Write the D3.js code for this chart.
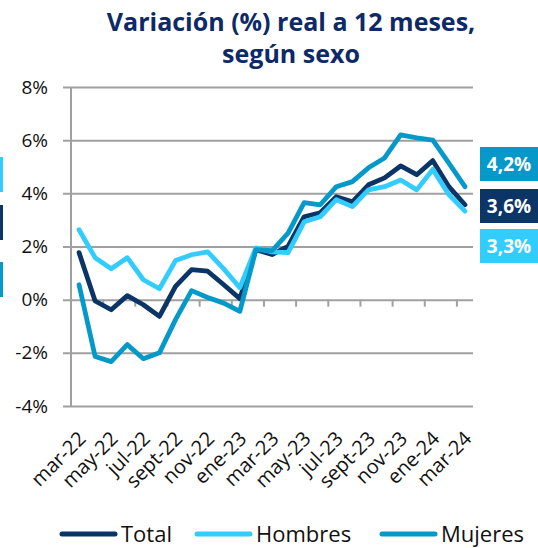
<!DOCTYPE html>
<html>
<head>
<meta charset="utf-8">
<script src="https://cdn.jsdelivr.net/npm/d3@7"></script>
<style>
  body { margin: 0; background: #fff; }
  svg { display: block; font-family: 'Open Sans', sans-serif; }
</style>
</head>
<body>
<svg></svg>
<script>
const months = ['mar-22', 'abr-22', 'may-22', 'jun-22', 'jul-22', 'ago-22', 'sept-22', 'oct-22', 'nov-22', 'dic-22',
    'ene-23', 'feb-23', 'mar-23', 'abr-23', 'may-23', 'jun-23', 'jul-23', 'ago-23', 'sept-23', 'oct-23', 'nov-23', 'dic-23',
    'ene-24', 'feb-24', 'mar-24'];
const total = [1.77, -0.05, -0.38, 0.15, -0.19, -0.63, 0.5, 1.13, 1.07, 0.56, 0.04, 1.88, 1.7, 2.0,
    3.12, 3.27, 3.87, 3.68, 4.32, 4.58, 5.03, 4.7, 5.23, 4.25, 3.57];
const hombres = [2.63, 1.58, 1.16, 1.58, 0.75, 0.41, 1.47, 1.69, 1.8, 1.16, 0.45, 1.95, 1.8, 1.77,
    2.93, 3.12, 3.76, 3.5, 4.13, 4.25, 4.5, 4.13, 4.9, 3.95, 3.33];
const mujeres = [0.56, -2.14, -2.33, -1.69, -2.22, -2.0, -0.75, 0.34, 0.08, -0.13, -0.44, 1.88, 1.84, 2.5,
    3.65, 3.57, 4.25, 4.44, 4.96, 5.33, 6.2, 6.09, 6.0, 5.14, 4.25];
const yTicks = [-4, -2, 0, 2, 4, 6, 8];
const seriesNames = ['Total', 'Hombres', 'Mujeres'];
const endLabels = ['4,2%', '3,6%', '3,3%'];

const colors = { Total: '#0b3467', Hombres: '#33ccff', Mujeres: '#0599c9' };
const series = [
    { name: 'Total', values: total },
    { name: 'Hombres', values: hombres },
    { name: 'Mujeres', values: mujeres }
];

const svgWidth = 538;
const svgHeight = 548;

const svg = d3.select('svg')
    .attr('width', svgWidth)
    .attr('height', svgHeight);

const x = d3.scaleBand()
    .domain(months)
    .range([71, 473])
    .padding(0);

const y = d3.scaleLinear()
    .domain([-4, 8])
    .range([406, 87]);

const cx = m => x(m) + x.bandwidth() / 2;

// title
const title = svg.append('text')
    .attr('text-anchor', 'middle')
    .attr('fill', '#0d2a66')
    .attr('font-weight', 'bold')
    .attr('font-size', '25px');
title.append('tspan').attr('x', 291).attr('y', 31).text('Variación (%) real a 12 meses,');
title.append('tspan').attr('x', 291).attr('y', 63).text('según sexo');

// gridlines + y labels
const yAxis = d3.axisLeft(y)
    .tickValues(yTicks)
    .tickSize(-(473 - 63))
    .tickFormat(d => d + '%');

svg.append('g')
    .attr('transform', 'translate(63,0)')
    .call(yAxis)
    .call(g => g.select('.domain').remove())
    .call(g => g.selectAll('line').attr('stroke', '#a0a0a0').attr('stroke-width', 2))
    .call(g => g.selectAll('text')
        .attr('x', -15)
        .attr('fill', '#111')
        .attr('font-size', '19px')
        .attr('font-family', "'Open Sans', sans-serif"));

// vertical axis line
svg.append('line')
    .attr('x1', 71).attr('x2', 71)
    .attr('y1', y(8)).attr('y2', y(-4))
    .attr('stroke', '#a0a0a0')
    .attr('stroke-width', 2);

// x axis at zero with ticks every two months
const xAxis = d3.axisBottom(x)
    .tickValues(months.filter((d, i) => i % 2 === 0))
    .tickSize(7)
    .tickFormat('');

svg.append('g')
    .attr('transform', `translate(${-x.bandwidth() / 2},${y(0)})`)
    .call(xAxis)
    .call(g => g.select('.domain').remove())
    .call(g => g.selectAll('line').attr('stroke', '#a0a0a0').attr('stroke-width', 2));

// x labels at bottom
svg.append('g')
    .selectAll('text')
    .data(months.filter((d, i) => i % 2 === 0))
    .enter().append('text')
    .attr('transform', d => `translate(${cx(d) + 8},${440}) rotate(-45)`)
    .attr('text-anchor', 'end')
    .attr('fill', '#111')
    .attr('font-size', '20px')
    .text(d => d);

// lines
const line = d3.line()
    .x((d, i) => cx(months[i]))
    .y(d => y(d));

svg.append('g')
    .selectAll('path')
    .data(series)
    .enter().append('path')
    .attr('d', d => line(d.values))
    .attr('fill', 'none')
    .attr('stroke', d => colors[d.name])
    .attr('stroke-width', 4.8)
    .attr('stroke-linejoin', 'round')
    .attr('stroke-linecap', 'round');

// end labels
const endBoxes = [
    { text: endLabels[0], color: colors.Mujeres, y0: 147 },
    { text: endLabels[1], color: colors.Total, y0: 189 },
    { text: endLabels[2], color: colors.Hombres, y0: 229 }
];
const eb = svg.append('g').selectAll('g')
    .data(endBoxes)
    .enter().append('g');
eb.append('rect')
    .attr('x', 480).attr('y', d => d.y0)
    .attr('width', 60).attr('height', 34)
    .attr('fill', d => d.color);
eb.append('text')
    .attr('x', 509).attr('y', d => d.y0 + 24)
    .attr('text-anchor', 'middle')
    .attr('fill', '#fff')
    .attr('font-weight', 'bold')
    .attr('font-size', '19px')
    .text(d => d.text);

// cut-off boxes at the left edge
const leftBoxes = [
    { color: colors.Hombres, y0: 157 },
    { color: colors.Total, y0: 205 },
    { color: colors.Mujeres, y0: 262 }
];
svg.append('g').selectAll('rect')
    .data(leftBoxes)
    .enter().append('rect')
    .attr('x', 0).attr('y', d => d.y0)
    .attr('width', 3).attr('height', 35)
    .attr('fill', d => d.color);

// legend
const legendX = [60, 195, 380];
const legend = svg.append('g').selectAll('g')
    .data(seriesNames)
    .enter().append('g')
    .attr('transform', (d, i) => `translate(${legendX[i]},534)`);
legend.append('line')
    .attr('x1', 2).attr('x2', 55)
    .attr('stroke', d => colors[d])
    .attr('stroke-width', 5)
    .attr('stroke-linecap', 'round');
legend.append('text')
    .attr('x', 61)
    .attr('y', 8)
    .attr('fill', '#111')
    .attr('font-size', '22px')
    .text(d => d);
</script>
</body>
</html>
